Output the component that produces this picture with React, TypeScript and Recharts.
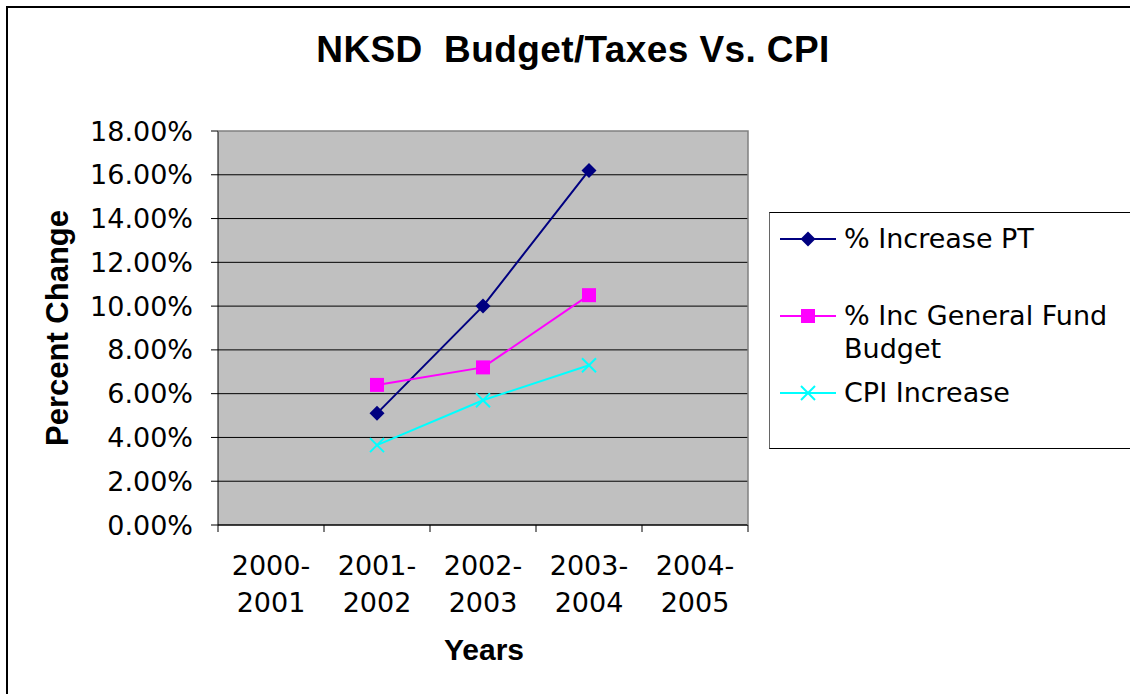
import { CartesianGrid, Line, LineChart, XAxis, YAxis } from "recharts";

const YEARS = ["2000-2001", "2001-2002", "2002-2003", "2003-2004", "2004-2005"];
const PT_INCREASE = [null, 0.051, 0.1, 0.162, null];
const GENERAL_FUND = [null, 0.064, 0.072, 0.105, null];
const CPI_INCREASE = [null, 0.0365, 0.057, 0.073, null];
const Y_TICKS = [0, 0.02, 0.04, 0.06, 0.08, 0.1, 0.12, 0.14, 0.16, 0.18];
const GRID_VALUES = [0.02, 0.04, 0.06, 0.08, 0.1, 0.12, 0.14, 0.16];

const SERIES = [
  { key: "pt", name: "% Increase PT", color: "#000080", marker: "diamond" },
  { key: "gf", name: "% Inc General Fund Budget", color: "#ff00ff", marker: "square" },
  { key: "cpi", name: "CPI Increase", color: "#00ffff", marker: "cross" },
];

const rows = YEARS.map((year, i) => ({
  year,
  pt: PT_INCREASE[i],
  gf: GENERAL_FUND[i],
  cpi: CPI_INCREASE[i],
}));

const W = 1130;
const H = 694;
const PLOT = { left: 218, top: 131, right: 748, bottom: 525 };
const Y_AXIS_W = 120;
const X_AXIS_H = 100;
const BAND_HALF = (PLOT.right - PLOT.left) / YEARS.length / 2;
const TICK_FONT = "'DejaVu Sans', Verdana, sans-serif";
const TITLE_FONT = "'Liberation Sans', Arial, sans-serif";

function Marker({ kind, cx, cy, color }: { kind: string; cx: number; cy: number; color: string }) {
  if (kind === "diamond") {
    const r = 7.5;
    return <polygon fill={color} points={`${cx},${cy - r} ${cx + r},${cy} ${cx},${cy + r} ${cx - r},${cy}`} />;
  }
  if (kind === "square") {
    return <rect fill={color} x={cx - 7} y={cy - 7} width={14} height={14} />;
  }
  return (
    <g stroke={color} strokeWidth={2}>
      <line x1={cx - 7} y1={cy - 7} x2={cx + 7} y2={cy + 7} />
      <line x1={cx - 7} y1={cy + 7} x2={cx + 7} y2={cy - 7} />
    </g>
  );
}

function dotFor(kind: string, color: string) {
  return (props: { cx?: number; cy?: number; value?: number | null; index?: number }) => {
    const { cx, cy, value, index } = props;
    if (value === null || value === undefined || cx === undefined || cy === undefined) {
      return <g key={`e-${index}`} />;
    }
    return (
      <g key={`d-${index}`}>
        <Marker kind={kind} cx={cx} cy={cy} color={color} />
      </g>
    );
  };
}

function YearTick(props: { x?: number; y?: number; payload?: { value: string; index: number } }) {
  const { x = 0, y = 0, payload } = props;
  const label = payload?.value ?? "";
  const [a, b] = label.split("-");
  const last = payload?.index === YEARS.length - 1;
  return (
    <g>
      <line x1={x - BAND_HALF} y1={y} x2={x - BAND_HALF} y2={y + 7} stroke="#000" />
      {last && <line x1={x + BAND_HALF} y1={y} x2={x + BAND_HALF} y2={y + 7} stroke="#000" />}
      <text x={x} y={y + 50} textAnchor="middle" fontSize={27} fontFamily={TICK_FONT} fill="#000">
        {a}-
      </text>
      <text x={x} y={y + 87} textAnchor="middle" fontSize={27} fontFamily={TICK_FONT} fill="#000">
        {b}
      </text>
    </g>
  );
}

function LegendBox() {
  const tops = [9, 86, 163];
  return (
    <div
      style={{
        position: "absolute",
        left: 769,
        top: 212,
        width: 400,
        height: 235,
        border: "1px solid #000",
        borderLeftColor: "#666",
        background: "#fff",
        fontFamily: TICK_FONT,
        fontSize: 27,
        lineHeight: "33px",
      }}
    >
      {SERIES.map((s, i) => (
        <div key={s.key} style={{ position: "absolute", left: 0, top: tops[i], display: "flex" }}>
          <svg width={74} height={33} style={{ flex: "none" }}>
            <line x1={10} y1={17} x2={66} y2={17} stroke={s.color} strokeWidth={2} />
            <Marker kind={s.marker} cx={38} cy={17} color={s.color} />
          </svg>
          <span style={{ width: 282, color: "#000" }}>{s.name}</span>
        </div>
      ))}
    </div>
  );
}

export default function App() {
  return (
    <div style={{ position: "absolute", left: 0, top: 0, width: W, height: H, overflow: "hidden", background: "#fff" }}>
      <div
        style={{
          position: "absolute",
          left: 6,
          top: 6,
          width: 1300,
          height: 900,
          border: "2px solid #000",
          boxSizing: "border-box",
        }}
      />
      <div style={{ position: "absolute", left: 0, top: 0 }}>
        <LineChart
          width={W}
          height={H}
          data={rows}
          margin={{
            top: PLOT.top,
            right: W - PLOT.right,
            bottom: H - PLOT.bottom - X_AXIS_H,
            left: PLOT.left - Y_AXIS_W,
          }}
        >
          <CartesianGrid
            vertical={false}
            horizontalValues={GRID_VALUES}
            stroke="#000"
            strokeWidth={1}
            fill="#c0c0c0"
            fillOpacity={1}
          />
          <XAxis
            dataKey="year"
            height={X_AXIS_H}
            interval={0}
            padding={{ left: BAND_HALF, right: BAND_HALF }}
            tickLine={false}
            tickSize={0}
            tickMargin={0}
            axisLine={{ stroke: "#000", strokeWidth: 1.5 }}
            tick={<YearTick />}
          />
          <YAxis
            width={Y_AXIS_W}
            domain={[0, 0.18]}
            ticks={Y_TICKS}
            interval={0}
            tickSize={7}
            tickMargin={18}
            tickLine={{ stroke: "#000" }}
            axisLine={{ stroke: "#000" }}
            tickFormatter={(v: number) => `${(v * 100).toFixed(2)}%`}
            tick={{ fontSize: 27, fontFamily: TICK_FONT, fill: "#000" }}
          />
          {SERIES.map((s) => (
            <Line
              key={s.key}
              dataKey={s.key}
              name={s.name}
              type="linear"
              stroke={s.color}
              strokeWidth={2}
              dot={dotFor(s.marker, s.color)}
              activeDot={false}
              isAnimationActive={false}
            />
          ))}
        </LineChart>
      </div>
      <svg width={W} height={H} style={{ position: "absolute", left: 0, top: 0, pointerEvents: "none" }}>
        <polyline
          points={`${PLOT.left},${PLOT.top} ${PLOT.right},${PLOT.top} ${PLOT.right},${PLOT.bottom}`}
          fill="none"
          stroke="#808080"
          strokeWidth={1.5}
        />
        <text
          x={573}
          y={62}
          textAnchor="middle"
          fontSize={37}
          fontWeight="bold"
          fontFamily={TITLE_FONT}
          letterSpacing={0.4}
          fill="#000"
        >
          {"NKSD\u00a0 Budget/Taxes Vs. CPI"}
        </text>
        <text
          x={0}
          y={0}
          transform="translate(68 328) rotate(-90)"
          textAnchor="middle"
          fontSize={31}
          fontWeight="bold"
          fontFamily={TITLE_FONT}
          fill="#000"
        >
          Percent Change
        </text>
        <text x={484} y={660} textAnchor="middle" fontSize={30} fontWeight="bold" fontFamily={TITLE_FONT} fill="#000">
          Years
        </text>
      </svg>
      <LegendBox />
    </div>
  );
}
